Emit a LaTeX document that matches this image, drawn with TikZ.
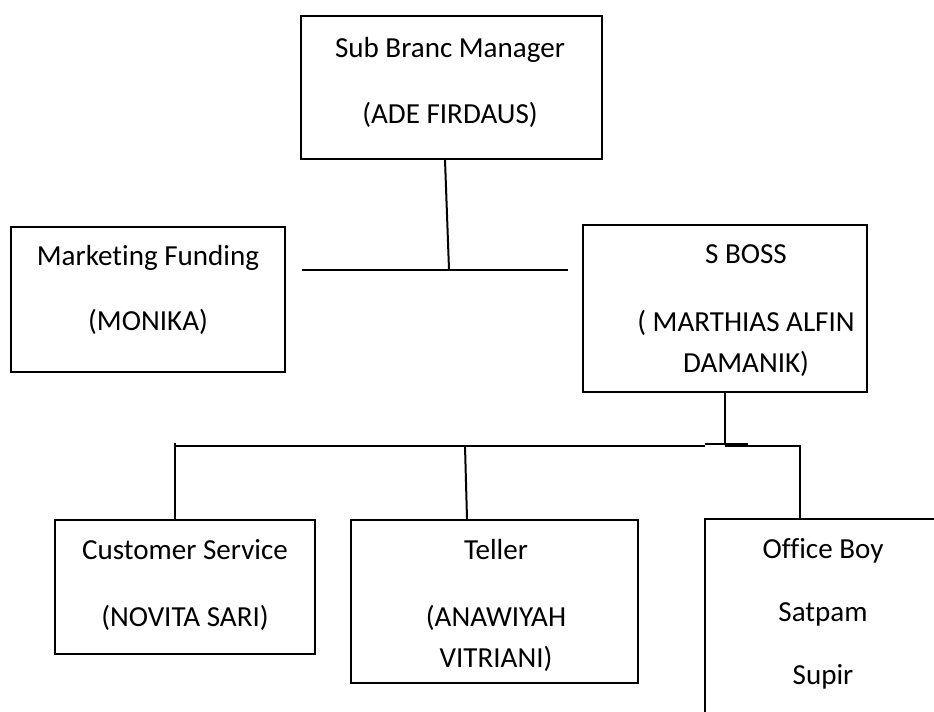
\documentclass[tikz,border=0pt]{standalone}
\usepackage{fontspec}
\setmainfont[Ligatures=NoCommon]{Carlito}
\usetikzlibrary{fit}
\begin{document}
\begin{tikzpicture}[x=0.75pt,y=-0.75pt,
  box/.style={draw=black,line width=1.5pt,inner sep=0pt,fill=none},
  lbl/.style={anchor=base,inner sep=0pt,font=\fontsize{21.8}{26}\selectfont},
  conn/.style={draw=black,line width=1.5pt}]
\clip (0,0) rectangle (934,711);
\fill[white] (0,0) rectangle (934,711);
% boxes
\node[box,fit={(301,16) (602,159)}] (sbm) {};
\node[box,fit={(11,227) (285,372)}] (mkt) {};
\node[box,fit={(583,225) (867,392)}] (sboss) {};
\node[box,fit={(55,520) (315,654)}] (cs) {};
\node[box,fit={(351,520) (638,683)}] (tel) {};
\node[box,fit={(705,519) (960,740)}] (ofc) {};
% texts
\node[lbl] (t1) at (450,57) {Sub Branc Manager};
\node[lbl] (t2) at (450,123) {(ADE FIRDAUS)};
\node[lbl] (t3) at (148,265) {Marketing Funding};
\node[lbl] (t4) at (148,330) {(MONIKA)};
\node[lbl] (t5) at (746,263) {S BOSS};
\node[lbl] (t6) at (746,331) {( MARTHIAS ALFIN};
\node[lbl] (t7) at (746,372) {DAMANIK)};
\node[lbl] (t8) at (185,559) {Customer Service};
\node[lbl] (t9) at (185,626) {(NOVITA SARI)};
\node[lbl] (t10) at (496,559) {Teller};
\node[lbl] (t11) at (496,626) {(ANAWIYAH};
\node[lbl] (t12) at (496,667) {VITRIANI)};
\node[lbl] (t13) at (823,558) {Office Boy};
\node[lbl] (t14) at (823,621) {Satpam};
\node[lbl] (t15) at (823,684) {Supir};
% junction coordinates
\coordinate (j1) at (449,269.5);
\coordinate (hl) at (302,269.5);
\coordinate (hr) at (568,269.5);
\coordinate (j2) at (725,444);
\coordinate (bl) at (175,443);
\coordinate (bm) at (465,446);
\coordinate (br) at (800,446);
\coordinate (ba) at (705,446);
\coordinate (bb) at (705,444);
\coordinate (bc) at (748,444);
\coordinate (bd) at (725,446);
% connectors
\draw[conn] ([xshift=-6.5*0.75pt]sbm.south) -- (j1);
\draw[conn] (hl) -- (hr);
\draw[conn] (sboss.south) -- (j2);
\draw[conn] (bl |- bm) -- (ba);
\draw[conn] (bb) -- (bc);
\draw[conn] (bd) -- (br) -- (br |- ofc.north);
\draw[conn] (bl) -- (bl |- cs.north);
\draw[conn] (bm) -- ([xshift=-27.5*0.75pt]tel.north);
\end{tikzpicture}
\end{document}
